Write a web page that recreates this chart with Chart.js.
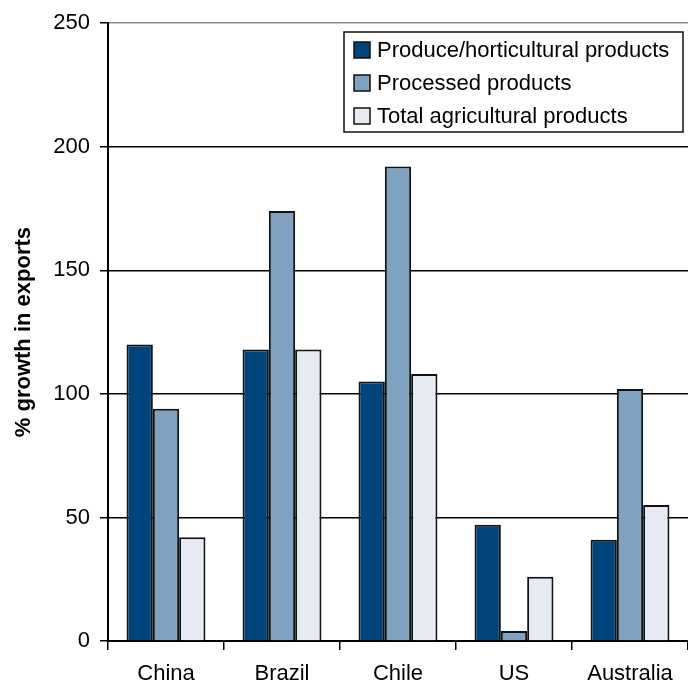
<!DOCTYPE html>
<html>
<head>
<meta charset="utf-8">
<script src="https://cdn.jsdelivr.net/npm/chart.js@4/dist/chart.umd.min.js"></script>
<style>
  html, body { margin: 0; padding: 0; background: #fff; }
  #wrap { width: 688px; height: 683px; position: relative; }
</style>
</head>
<body>
<div id="wrap"><canvas id="c"></canvas></div>
<script>
// Export growth by country, three product groups
const countries = ['China', 'Brazil', 'Chile', 'US', 'Australia'];
const produceGrowth = [120, 118, 105, 47, 41];
const processedGrowth = [94, 174, 192, 4, 102];
const totalGrowth = [42, 118, 108, 26, 55];
const seriesNames = ['Produce/horticultural products', 'Processed products', 'Total agricultural products'];
const seriesColors = ['#00447c', '#7fa2c0', '#e6eaf2'];
const yTicks = [0, 50, 100, 150, 200, 250];

const FONT = '"Liberation Sans", Arial, sans-serif';

// Boxed legend drawn in the upper-right corner of the plot
const boxLegend = {
  id: 'boxLegend',
  afterDraw(chart) {
    const ctx = chart.ctx;
    const x0 = 344, y0 = 32, w = 339, h = 100;
    ctx.save();
    ctx.fillStyle = '#fff';
    ctx.fillRect(x0, y0, w, h);
    ctx.strokeStyle = '#111';
    ctx.lineWidth = 1.5;
    ctx.strokeRect(x0, y0, w, h);
    ctx.font = '22px ' + FONT;
    ctx.textBaseline = 'middle';
    chart.data.datasets.forEach((ds, i) => {
      const cy = y0 + 18 + i * 33;
      ctx.fillStyle = ds.backgroundColor;
      ctx.fillRect(x0 + 10, cy - 8, 16, 16);
      ctx.strokeStyle = '#111';
      ctx.lineWidth = 1.5;
      ctx.strokeRect(x0 + 10, cy - 8, 16, 16);
      ctx.fillStyle = '#000';
      ctx.fillText(ds.label, x0 + 33, cy + 1);
    });
    ctx.restore();
  }
};

const seriesValues = [produceGrowth, processedGrowth, totalGrowth];

new Chart(document.getElementById('c'), {
  type: 'bar',
  data: {
    labels: countries,
    datasets: seriesNames.map((name, i) => ({
      label: name,
      data: seriesValues[i],
      backgroundColor: seriesColors[i],
      borderColor: '#111',
      borderWidth: 2,
      categoryPercentage: 0.68,
      barPercentage: 1.0
    }))
  },
  options: {
    responsive: true,
    maintainAspectRatio: false,
    animation: false,
    layout: { padding: { top: 20, right: 0, left: 0, bottom: 0 } },
    plugins: {
      legend: { display: false },
      tooltip: { enabled: false }
    },
    scales: {
      x: {
        grid: {
          display: true,
          drawOnChartArea: false,
          drawTicks: true,
          tickLength: 9,
          offset: true,
          color: '#000',
          lineWidth: 1.5
        },
        border: { display: true, color: '#000', width: 2 },
        ticks: {
          color: '#000',
          font: { family: FONT, size: 22 },
          padding: 11,
          maxRotation: 0
        },
        afterFit(scale) { scale.height = 42; }
      },
      y: {
        min: 0,
        max: 250,
        afterBuildTicks(scale) {
          scale.ticks = yTicks.map(v => ({ value: v }));
        },
        grid: {
          drawTicks: true,
          tickLength: 8,
          color: (c) => (c.tick && c.tick.value === 250 ? '#8a8a8a' : '#000'),
          tickColor: '#000',
          lineWidth: 1.5
        },
        border: { display: true, color: '#000', width: 2 },
        ticks: {
          color: '#000',
          font: { family: FONT, size: 22 },
          padding: 10
        },
        title: {
          display: true,
          text: '% growth in exports',
          color: '#000',
          font: { family: FONT, size: 22, weight: 'bold' },
          padding: { top: 11, bottom: 0 }
        },
        afterFit(scale) { scale.width = 108; }
      }
    }
  },
  plugins: [boxLegend]
});
</script>
</body>
</html>
